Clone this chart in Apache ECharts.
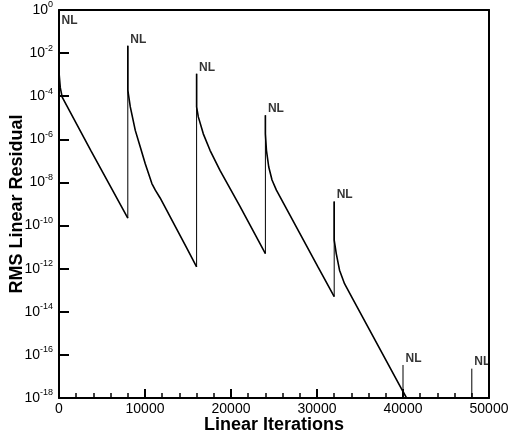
<!DOCTYPE html>
<html>
<head>
<meta charset="utf-8">
<script src="https://cdn.jsdelivr.net/npm/echarts@6/dist/echarts.min.js"></script>
<style>
  html, body { margin: 0; padding: 0; background: #fff; }
  #chart { width: 511px; height: 439px; }
</style>
</head>
<body>
<div id="chart"></div>
<script>
// Nonlinear steps: linear-iteration count at each restart and the residual it jumps to
const nlIter = [0, 8000, 16000, 24000, 32000, 40000, 48000];
const nlPeak = [1.6e-1, 2.2e-2, 1.1e-3, 1.3e-5, 1.3e-9, 3.4e-17, 2.3e-17];
// residual each jump starts from (end of the previous linear solve)
const nlBase = [null, 2.2e-10, 1.2e-12, 5.0e-12, 5.0e-14, 6.3e-19, 1.0e-19];

// Linear solves that follow the nonlinear steps
const solveIter = [
  [0, 0, 150, 370, 3690, 8000],
  [8000, 8000, 8290, 8870, 9450, 10030, 10800, 11200, 11760, 14860, 16000],
  [16000, 16000, 16200, 16780, 17560, 18720, 21030, 24000],
  [24000, 24000, 24120, 24390, 24770, 25280, 30110, 32000],
  [32000, 32000, 32240, 32620, 33200, 34170, 40000, 40700]
];
const solveRes = [
  [1.6e-1, 1.3e-3, 2.5e-4, 9.0e-5, 3.1e-7, 2.2e-10],
  [2.2e-2, 1.9e-4, 3.2e-5, 2.6e-6, 4.4e-7, 7.4e-8, 8.9e-9, 4.4e-9, 1.9e-9, 8.9e-12, 1.2e-12],
  [1.1e-3, 3.2e-5, 1.1e-5, 1.8e-6, 3.1e-7, 3.6e-8, 7.9e-10, 5.0e-12],
  [1.3e-5, 1.8e-6, 3.1e-7, 5.2e-8, 1.3e-8, 4.4e-9, 1.2e-12, 5.0e-14],
  [1.3e-9, 2.1e-11, 5.0e-12, 8.5e-13, 2.0e-13, 3.9e-14, 2.0e-18, 6.3e-19]
];

const xRange = [0, 50000];
const xStep = 10000;
const yRange = [1e-18, 1];
const yStepDecades = 2;

const font = 'Liberation Sans, Arial, Helvetica, sans-serif';
const chart = echarts.init(document.getElementById('chart'), null, { renderer: 'canvas' });

const series = [];
solveIter.forEach((xs, i) => {
  series.push({
    type: 'line',
    name: 'Linear solve ' + (i + 1),
    data: xs.map((x, j) => [x, solveRes[i][j]]),
    symbol: 'none',
    lineStyle: { color: '#000', width: 1.6 },
    z: 3
  });
});
nlIter.forEach((x, i) => {
  if (nlBase[i] == null) return;
  series.push({
    type: 'line',
    name: 'NL jump ' + (i + 1),
    data: [[x, nlBase[i]], [x, nlPeak[i]]],
    symbol: 'none',
    lineStyle: { color: '#000', width: 1 },
    z: 2
  });
});
series.push({
  type: 'scatter',
  name: 'NL',
  data: nlIter.map((x, i) => [x, nlPeak[i]]),
  symbolSize: 0,
  silent: true,
  clip: false,
  label: {
    show: true,
    formatter: 'NL',
    position: [2.5, -6.5],
    align: 'left',
    verticalAlign: 'middle',
    fontFamily: font,
    fontWeight: 'bold',
    fontSize: 12,
    color: '#000'
  },
  z: 4
});

const frameLine = { show: true, onZero: false, lineStyle: { color: '#000', width: 2 } };

chart.setOption({
  animation: false,
  backgroundColor: '#fff',
  grid: {
    left: 59, right: 22, top: 10, bottom: 41,
    show: false,
    containLabel: false, outerBoundsMode: 'none'
  },
  xAxis: [{
    type: 'value',
    position: 'bottom',
    min: xRange[0], max: xRange[1], interval: xStep,
    axisLine: frameLine,
    axisTick: { show: true, inside: true, length: 9, lineStyle: { color: '#000', width: 2 } },
    minorTick: { show: true, splitNumber: 5, length: 5, lineStyle: { color: '#000', width: 1.5 } },
    splitLine: { show: false },
    minorSplitLine: { show: false },
    axisLabel: {
      margin: 4, fontSize: 14, color: '#000', fontFamily: font,
      formatter: function (v) { return String(v); }
    },
    name: 'Linear Iterations',
    nameLocation: 'middle',
    nameGap: 18,
    nameMoveOverlap: false,
    nameTextStyle: { fontFamily: font, fontWeight: 'bold', fontSize: 18, color: '#000' }
  }, {
    type: 'value',
    position: 'top',
    min: xRange[0], max: xRange[1],
    axisLine: frameLine,
    axisTick: { show: false },
    axisLabel: { show: false },
    splitLine: { show: false }
  }],
  yAxis: [{
    type: 'log',
    logBase: 10,
    position: 'left',
    min: yRange[0], max: yRange[1], interval: yStepDecades,
    axisLine: frameLine,
    axisTick: { show: true, inside: true, length: 10, lineStyle: { color: '#000', width: 2 } },
    splitLine: { show: false },
    axisLabel: {
      margin: 6,
      color: '#000',
      fontFamily: font,
      formatter: function (v) {
        const e = Math.round(Math.log10(v));
        return '{b|10}{s|' + e + '}';
      },
      rich: {
        b: { fontSize: 14, fontFamily: font, color: '#000' },
        s: { fontSize: 9, fontFamily: font, color: '#000', padding: [0, 0, 10, 0] }
      }
    },
    name: 'RMS Linear Residual',
    nameLocation: 'middle',
    nameGap: 33,
    nameMoveOverlap: false,
    nameTextStyle: { fontFamily: font, fontWeight: 'bold', fontSize: 18, color: '#000' }
  }, {
    type: 'value',
    position: 'right',
    min: 0, max: 1,
    axisLine: frameLine,
    axisTick: { show: false },
    axisLabel: { show: false },
    splitLine: { show: false }
  }],
  series: series
});
</script>
</body>
</html>
